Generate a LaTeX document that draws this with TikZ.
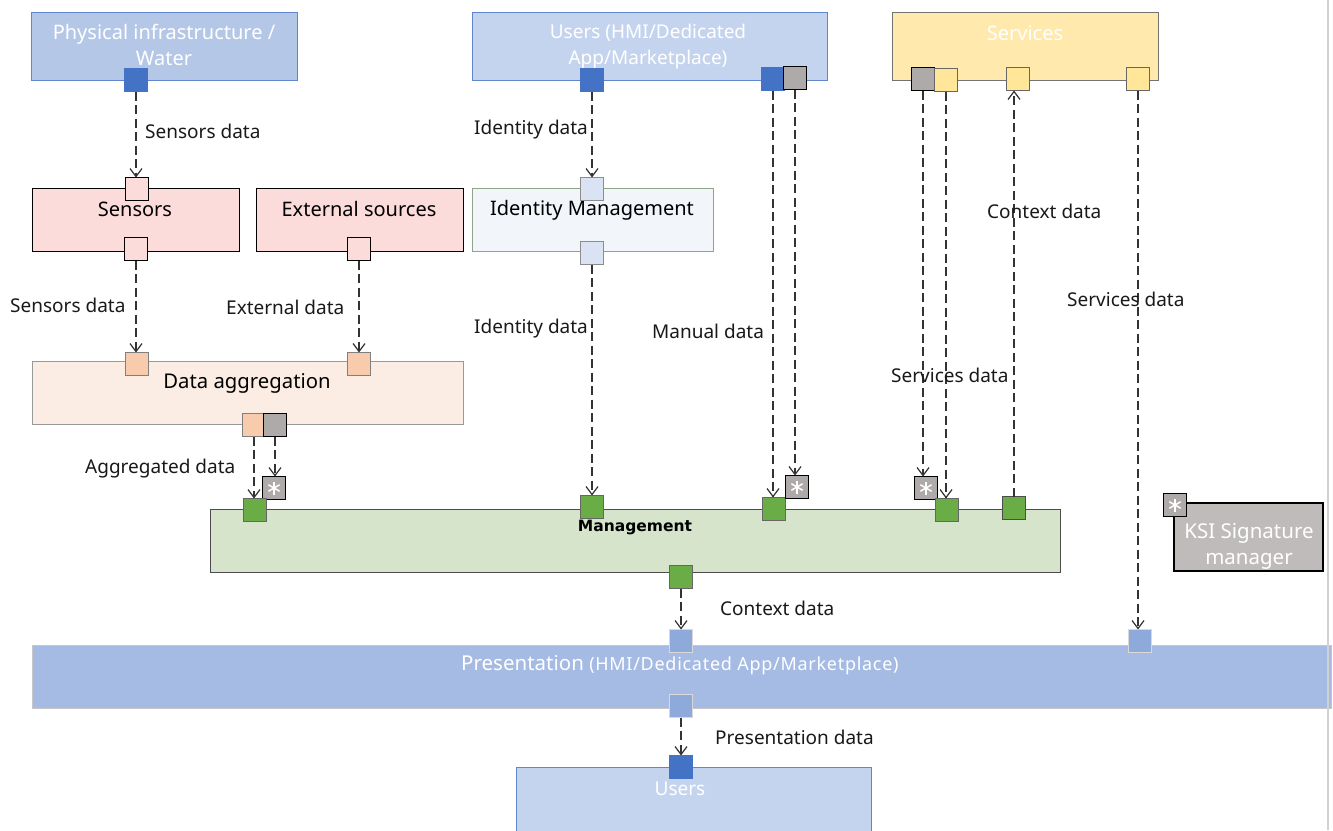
\documentclass[tikz,border=0pt]{standalone}
\usepackage{fontspec}
\setmainfont{Noto Sans}
\newfontfamily\mgmtfont{DejaVu Sans}
\newfontfamily\presfont{Noto Sans}[LetterSpace=4]
\usetikzlibrary{arrows.meta}
\definecolor{dblue}{HTML}{4472C4}
\definecolor{physfill}{HTML}{B4C7E7}
\definecolor{usrfill}{HTML}{C5D4EE}
\definecolor{pinkfill}{HTML}{FCDCDB}
\definecolor{salmon}{HTML}{F8CBAD}
\definecolor{aggfill}{HTML}{FBEDE3}
\definecolor{idfill}{HTML}{F2F6FB}
\definecolor{idport}{HTML}{DAE3F3}
\definecolor{idborder}{HTML}{8FA58A}
\definecolor{gport}{HTML}{AEAAAA}
\definecolor{grn}{HTML}{6AAC46}
\definecolor{mgmtfill}{HTML}{D5E4CA}
\definecolor{srvfill}{HTML}{FFE9AD}
\definecolor{yport}{HTML}{FFE699}
\definecolor{ksifill}{HTML}{BFBBBB}
\definecolor{presfill}{HTML}{A5BBE3}
\definecolor{presport}{HTML}{8EAADB}
\definecolor{linec}{HTML}{333333}
\begin{document}
\begin{tikzpicture}[x=1pt,y=-1pt,
  box/.style={draw, anchor=north west, inner sep=0, outer sep=0, line width=1pt},
  port/.style={draw, minimum size=23pt, inner sep=0, outer sep=0, line width=0.9pt},
  starport/.style={port, fill=gport, draw=black, line width=1.3pt,
    path picture={\foreach \a in {90,30,150}{\draw[white,line width=1.5pt] (path picture bounding box.center) ++(\a:6.5) -- ++(\a+180:13);}}},
  ttl/.style={font=\fontsize{20}{26}\selectfont, inner sep=0, align=center},
  wttl/.style={ttl, text=white},
  lbl/.style={font=\fontsize{19}{22}\selectfont, text=black!90, inner sep=0, anchor=west},
  flow/.style={draw=linec, line width=1.3pt, dash pattern=on 9pt off 4.5pt,
    -{Straight Barb[length=8pt,width=12pt,line width=1.2pt]}}
]
\useasboundingbox (0,0) rectangle (1333,830);
\clip (0,0) rectangle (1333,830);
\fill[white] (0,0) rectangle (1333,830);

% boxes
\node[box, fill=physfill, draw=dblue!85, minimum width=266pt, minimum height=68pt] (phys) at (31,12) {};
\node[box, fill=usrfill, draw=dblue!85, minimum width=355pt, minimum height=68pt] (users) at (472,12) {};
\node[box, fill=srvfill, draw=black!55, minimum width=266pt, minimum height=68pt] (serv) at (892,12) {};
\node[box, fill=pinkfill, draw=black, minimum width=207pt, minimum height=63pt] (sens) at (32,188) {};
\node[box, fill=pinkfill, draw=black, minimum width=207pt, minimum height=63pt] (ext) at (256,188) {};
\node[box, fill=idfill, draw=idborder, minimum width=241pt, minimum height=63pt] (idm) at (472,188) {};
\node[box, fill=aggfill, draw=black!40, minimum width=431pt, minimum height=63pt] (agg) at (32,361) {};
\node[box, fill=mgmtfill, draw=black!70, minimum width=850pt, minimum height=63pt] (mgmt) at (210,509) {};
\node[box, fill=ksifill, draw=black, line width=1.3pt, minimum width=149pt, minimum height=68pt] (ksi) at (1174,503) {};
\node[box, fill=presfill, draw=black!22, minimum width=1299pt, minimum height=63pt] (pres) at (32,645) {};
\node[box, fill=usrfill, draw=dblue!85, minimum width=355pt, minimum height=80pt] (usersb) at (516,767) {};

% right edge line
\draw[black!18, line width=2pt] (1328,0) -- (1328,830);

% box texts
\node[wttl] (tphys) at (164,45) {Physical infrastructure /\\Water};
\node[wttl, font=\fontsize{19}{26}\selectfont] (tusers) at (648,47) {Users (HMI/Dedicated\\App/Marketplace)};
\node[wttl] (tserv) at (1025,33) {Services};
\node[ttl] (tsens) at (135,209) {Sensors};
\node[ttl] (text) at (359,209) {External sources};
\node[ttl] (tidm) at (592,210) {Identity Management};
\node[ttl, font=\fontsize{20.3}{26}\selectfont] (tagg) at (247,383) {Data aggregation};
\node[inner sep=0, font=\mgmtfont\fontsize{15.5}{20}\selectfont\bfseries] (tmgmt) at (635,528) {Management};
\node[wttl, font=\fontsize{20.5}{26}\selectfont] (tksi) at (1249,546) {KSI Signature\\manager};
\node[inner sep=0, anchor=west, text=white] (tpres) at (461,665) {\fontsize{20.5}{24}\selectfont Presentation \presfont\fontsize{18}{22}\selectfont(HMI/Dedicated App/Marketplace)};
\node[wttl, font=\fontsize{19}{24}\selectfont] (tusersb) at (680,789) {Users};

% ports
\node[port, fill=dblue, draw=dblue] (pPhys) at (136,80) {};
\node[port, fill=pinkfill, draw=black] (pSensT) at (137,189) {};
\node[port, fill=pinkfill, draw=black] (pSensB) at (136,249) {};
\node[port, fill=pinkfill, draw=black] (pExtB) at (359,249) {};
\node[port, fill=salmon, draw=black!50] (pAggT1) at (137,364) {};
\node[port, fill=salmon, draw=black!50] (pAggT2) at (359,364) {};
\node[port, fill=salmon, draw=black!50] (pAggB1) at (254,425) {};
\node[port, fill=gport, draw=black, line width=1.3pt] (pAggB2) at (275,425) {};
\node[starport] (sAgg) at (274,488) {};
\node[port, fill=grn, draw=black!60] (gAgg) at (255,510) {};
\node[port, fill=dblue, draw=dblue] (pUsr1) at (592,80) {};
\node[port, fill=dblue, draw=dblue] (pUsr2) at (773,79) {};
\node[port, fill=gport, draw=black, line width=1.3pt] (pUsr3) at (795,78) {};
\node[port, fill=idport, draw=black!45] (pIdT) at (592,189) {};
\node[port, fill=idport, draw=black!45] (pIdB) at (592,253) {};
\node[port, fill=grn, draw=black!60] (gId) at (592,507) {};
\node[port, fill=grn, draw=black!60] (gMan) at (774,509) {};
\node[starport] (sMan) at (797,487) {};
\node[port, fill=gport, draw=black, line width=1.3pt] (pSrv1) at (923,79) {};
\node[port, fill=yport, draw=black!60] (pSrv2) at (946,80) {};
\node[port, fill=yport, draw=black!60] (pSrv3) at (1018,79) {};
\node[port, fill=yport, draw=black!60] (pSrv4) at (1138,79) {};
\node[starport] (sSrv) at (926,488) {};
\node[port, fill=grn, draw=black!60] (gSrv) at (947,510) {};
\node[port, fill=grn, draw=black!70] (gCtx) at (1014,508) {};
\node[port, fill=grn, draw=black!60] (gOut) at (681,577) {};
\node[starport] (sKsi) at (1175,505) {};
\node[port, fill=presport, draw=black!15] (pPresT1) at (681,641) {};
\node[port, fill=presport, draw=black!15] (pPresT2) at (1140,641) {};
\node[port, fill=presport, draw=black!15] (pPresB) at (681,706) {};
\node[port, fill=dblue, draw=dblue] (pUsrB) at (681,767) {};

% connectors
\draw[flow] (pPhys.south) -- (pPhys.south |- pSensT.north);
\draw[flow] (pSensB.south) -- (pSensB.south |- pAggT1.north);
\draw[flow] (pExtB.south) -- (pAggT2.north);
\draw[flow] (pAggB1.south) -- (pAggB1.south |- gAgg.north);
\draw[flow] (pAggB2.south) -- (pAggB2.south |- sAgg.north);
\draw[flow] (pUsr1.south) -- (pIdT.north);
\draw[flow] (pIdB.south) -- (gId.north);
\draw[flow] (pUsr2.south) -- (pUsr2.south |- gMan.north);
\draw[flow] (pUsr3.south) -- (pUsr3.south |- sMan.north);
\draw[flow] (pSrv1.south) -- (pSrv1.south |- sSrv.north);
\draw[flow] (pSrv2.south) -- (pSrv2.south |- gSrv.north);
\draw[flow] (gCtx.north) -- (gCtx.north |- pSrv3.south);
\draw[flow] (pSrv4.south) -- (pSrv4.south |- pPresT2.north);
\draw[flow] (gOut.south) -- (pPresT1.north);
\draw[flow] (pPresB.south) -- (pUsrB.north);

% labels
\node[lbl] (l1) at (145,131) {Sensors data};
\node[lbl] (l2) at (10,305) {Sensors data};
\node[lbl] (l3) at (226,307) {External data};
\node[lbl] (l4) at (85,469) {Aggregated data};
\node[lbl] (l5) at (474,130) {Identity data};
\node[lbl] (l6) at (474,329) {Identity data};
\node[lbl] (l7) at (652,331) {Manual data};
\node[lbl] (l8) at (891,375) {Services data};
\node[lbl] (l9) at (987,211) {Context data};
\node[lbl] (l10) at (1067,299) {Services data};
\node[lbl] (l11) at (720,608) {Context data};
\node[lbl] (l12) at (715,737) {Presentation data};
\end{tikzpicture}
\end{document}
